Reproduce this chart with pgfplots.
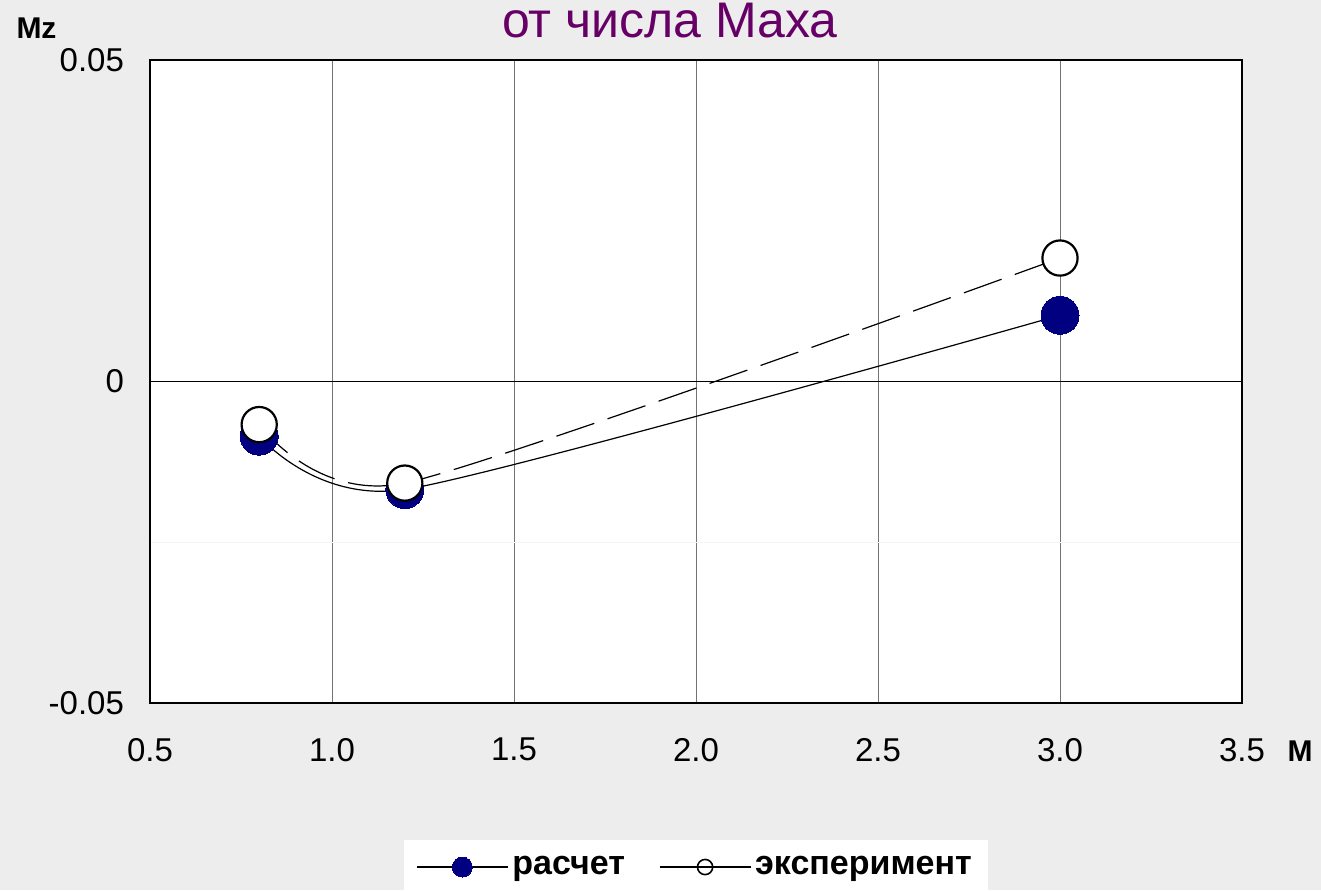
\documentclass[border=0pt]{standalone}
\usepackage{fontspec}
\setmainfont{Liberation Sans}
\usepackage{pgfplots}
\pgfplotsset{compat=1.18}
\definecolor{bgc}{RGB}{237,237,237}
\definecolor{navyc}{RGB}{0,0,128}
\definecolor{titlec}{RGB}{102,0,102}
\begin{document}
\begin{tikzpicture}
\fill[bgc] (-75pt,-93.5pt) rectangle (585.5pt,351.5pt);
\path[use as bounding box] (-75pt,-93.5pt) rectangle (585.5pt,351.5pt);
\begin{axis}[
  at={(0pt,0pt)}, anchor=south west,
  scale only axis, width=546pt, height=321.5pt,
  xmin=0.5, xmax=3.5, ymin=-0.05, ymax=0.05,
  xtick={0.5,1.0,1.5,2.0,2.5,3.0,3.5},
  ytick={-0.05,0,0.05},
  minor ytick={-0.025},
  scaled y ticks=false, scaled x ticks=false,
  xmajorgrids, yminorgrids,
  major grid style={black!55, line width=0.5pt},
  minor grid style={black!4, line width=0.5pt},
  major tick length=0pt, minor tick length=0pt,
  axis line style={black, line width=0.8pt},
  axis background/.style={fill=white},
  /pgf/number format/assume math mode=true,
  xticklabel style={/pgf/number format/.cd, fixed, fixed zerofill, precision=1, /tikz/.cd, font=\fontsize{16.5}{16.5}\selectfont, yshift=-14pt},
  yticklabel style={/pgf/number format/.cd, fixed, precision=2, /tikz/.cd, font=\fontsize{16.5}{16.5}\selectfont, xshift=-9.5pt},
  legend image code/.code={\draw[mark repeat=2,mark phase=2,#1] plot coordinates {(0cm,0cm) (0.8cm,0cm) (1.6cm,0cm)};},
  legend style={at={(0.5,-0.213)}, anchor=north, legend columns=2, draw=none, fill=white,
    font=\bfseries\fontsize{17}{20}\selectfont, inner xsep=6pt, inner ysep=6pt,
    /tikz/every even column/.append style={column sep=15pt}},
  legend cell align=left,
]
\addlegendimage{black, line width=0.6pt, mark=*, mark size=5pt, mark options={fill=navyc, draw=navyc, line width=0pt}}
\addlegendentry{расчет}
\addlegendimage{black, line width=0.6pt, mark=o, mark size=3.8pt, mark options={fill=white, draw=black, line width=0.8pt}}
\addlegendentry{эксперимент}
\draw[black, line width=0.7pt] (axis cs:0.5,0) -- (axis cs:3.5,0);
% lines
\addplot[forget plot, black, line width=0.6pt, smooth, tension=0.4, no marks] coordinates {(0.8,-0.0085) (1.2,-0.0168) (3.0,0.0103)};
\addplot[forget plot, black, line width=0.6pt, smooth, tension=0.4, no marks, dash pattern=on 20pt off 7pt] coordinates {(0.8,-0.0067) (1.2,-0.0158) (3.0,0.0192)};
% markers
\addplot[forget plot, only marks, mark=*, mark size=9.5pt, mark options={fill=navyc, draw=navyc, line width=0pt}] coordinates {(0.8,-0.0085) (1.2,-0.0168) (3.0,0.0103)};
\addplot[forget plot, only marks, mark=*, mark size=8.8pt, mark options={fill=white, draw=black, line width=1.1pt}] coordinates {(0.8,-0.0067) (1.2,-0.0158) (3.0,0.0192)};
\end{axis}
\node[font=\bfseries\fontsize{15}{15}\selectfont] at (-56.75pt,337.5pt) {Mz};
\node[font=\bfseries\fontsize{15}{15}\selectfont] at (575pt,-24.25pt) {M};
\node[anchor=base, text=titlec, font=\fontsize{25}{25}\selectfont] at (260pt,332.5pt) {от числа Маха};
\end{tikzpicture}
\end{document}
